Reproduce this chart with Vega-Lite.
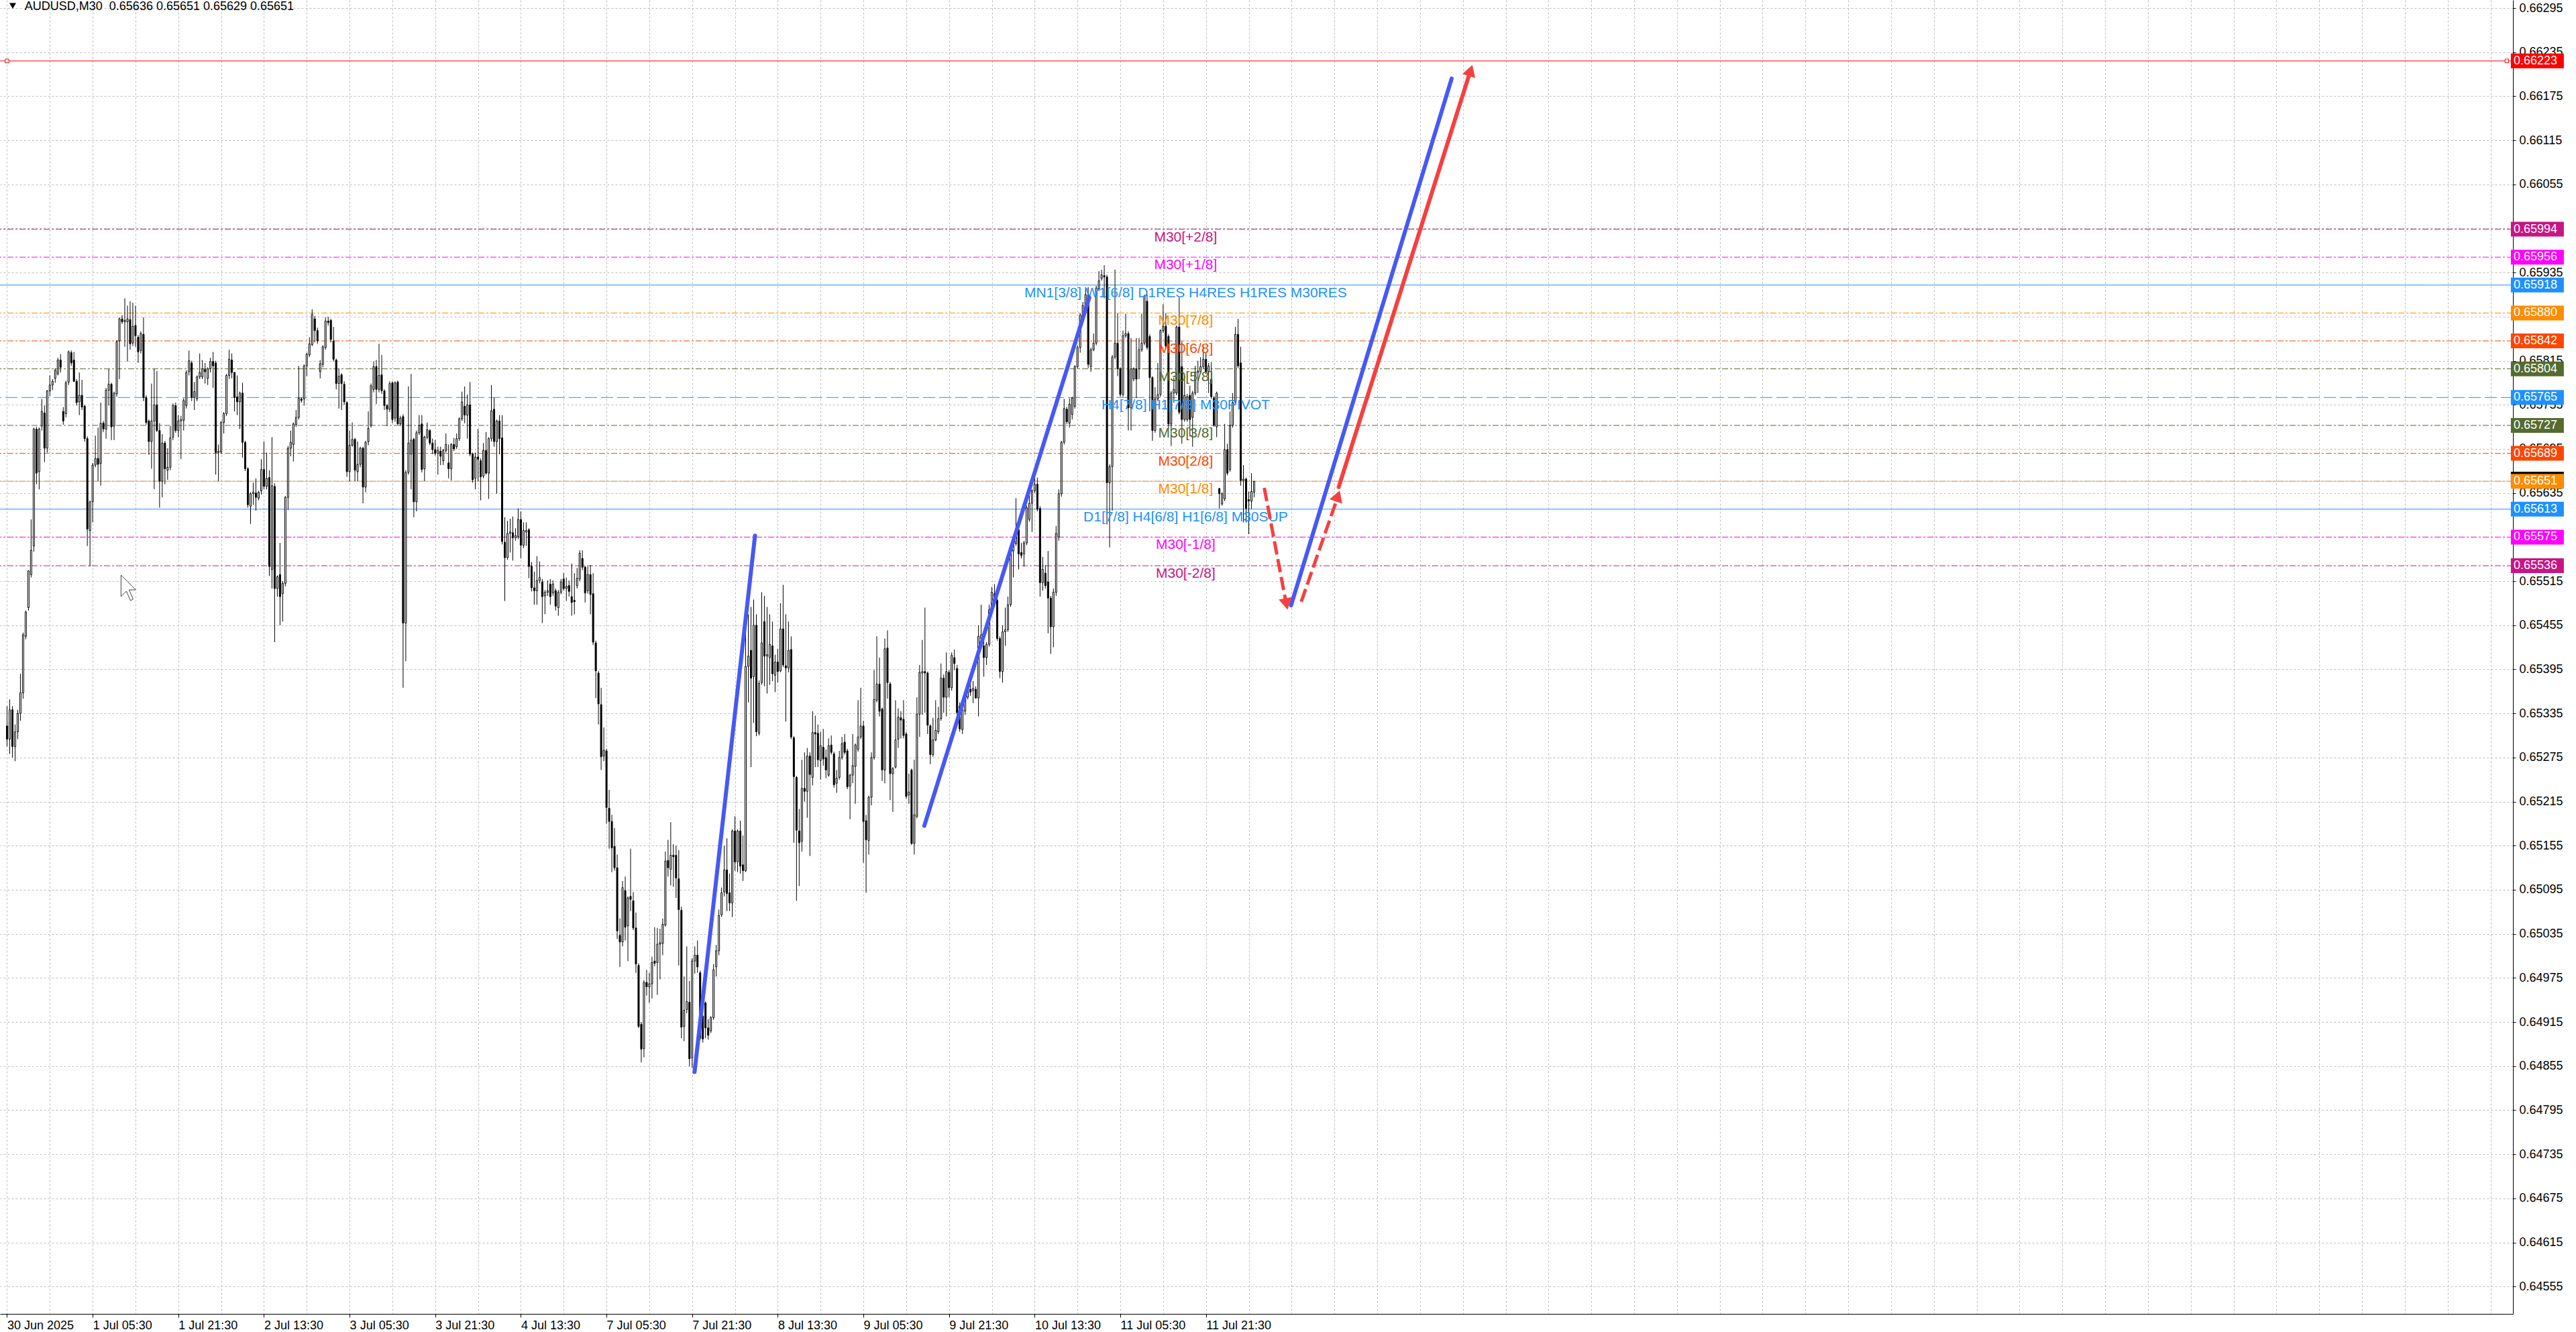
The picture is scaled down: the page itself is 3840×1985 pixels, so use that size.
{
"$schema": "https://vega.github.io/schema/vega-lite/v6.json",
"width": 3746, "height": 1958,
"autosize": "none",
"padding": {"left": 0, "top": 0, "right": 94, "bottom": 27},
"background": "white",
"config": {"view": {"stroke": null}, "font": "Liberation Sans"},
"datasets": {
"levels": [
{"level":"TARGET","v":0.66223},
{"level":"M30[+2/8]","v":0.65994},
{"level":"M30[+1/8]","v":0.65956},
{"level":"MN1[3/8] W1[6/8] D1RES H4RES H1RES M30RES","v":0.65918},
{"level":"M30[7/8]","v":0.65880},
{"level":"M30[6/8]","v":0.65842},
{"level":"M30[5/8]","v":0.65804},
{"level":"H4[7/8] H1[7/8] M30PIVOT","v":0.65765},
{"level":"M30[3/8]","v":0.65727},
{"level":"M30[2/8]","v":0.65689},
{"level":"M30[1/8]","v":0.65651},
{"level":"D1[7/8] H4[6/8] H1[6/8] M30SUP","v":0.65613},
{"level":"M30[-1/8]","v":0.65575},
{"level":"M30[-2/8]","v":0.65536}
],
"redends": [{"i":0,"v":0.66223},{"i":934.1,"v":0.66223}],
"cursor": [{"i":42.6,"v":0.655233}],
"trend": [
{"seg":"b1","kind":"blue","i":256.9,"v":0.64847},{"seg":"b1","kind":"blue","i":279.5,"v":0.65577},
{"seg":"b2","kind":"blue","i":342.75,"v":0.65182},{"seg":"b2","kind":"blue","i":404.4,"v":0.65901},
{"seg":"b3","kind":"blue","i":479.8,"v":0.65482},{"seg":"b3","kind":"blue","i":539.8,"v":0.66199},
{"seg":"r1","kind":"red","i":497.6,"v":0.65643},{"seg":"r1","kind":"red","i":546.6,"v":0.66207},
{"seg":"d1","kind":"dash","i":469.8,"v":0.65642},{"seg":"d1","kind":"dash","i":477.7,"v":0.65490},
{"seg":"d2","kind":"dash","i":483.6,"v":0.65487},{"seg":"d2","kind":"dash","i":496.9,"v":0.65626}
],
"heads": [
{"arrow":"solid","i":546.88,"v":0.66210},
{"arrow":"dashup","i":497.26,"v":0.65631},
{"arrow":"dashdown","i":478.06,"v":0.65484}
],
"candles": [
{"i":0,"o":0.65318,"h":0.65345,"l":0.65290,"c":0.65300},
{"i":1,"o":0.65300,"h":0.65354,"l":0.65280,"c":0.65340},
{"i":2,"o":0.65340,"h":0.65345,"l":0.65275,"c":0.65290},
{"i":3,"o":0.65290,"h":0.65320,"l":0.65270,"c":0.65310},
{"i":4,"o":0.65310,"h":0.65340,"l":0.65300,"c":0.65335},
{"i":5,"o":0.65335,"h":0.65389,"l":0.65325,"c":0.65363},
{"i":6,"o":0.65363,"h":0.65445,"l":0.65355,"c":0.65442},
{"i":7,"o":0.65440,"h":0.65475,"l":0.65436,"c":0.65473},
{"i":8,"o":0.65479,"h":0.65530,"l":0.65475,"c":0.65529},
{"i":9,"o":0.65524,"h":0.65599,"l":0.65520,"c":0.65557},
{"i":10,"o":0.65563,"h":0.65724,"l":0.65555,"c":0.65722},
{"i":11,"o":0.65722,"h":0.65725,"l":0.65647,"c":0.65662},
{"i":12,"o":0.65664,"h":0.65724,"l":0.65640,"c":0.65722},
{"i":13,"o":0.65726,"h":0.65763,"l":0.65720,"c":0.65746},
{"i":14,"o":0.65744,"h":0.65754,"l":0.65677,"c":0.65696},
{"i":15,"o":0.65696,"h":0.65775,"l":0.65690,"c":0.65774},
{"i":16,"o":0.65774,"h":0.65795,"l":0.65767,"c":0.65782},
{"i":17,"o":0.65782,"h":0.65790,"l":0.65775,"c":0.65787},
{"i":18,"o":0.65791,"h":0.65805,"l":0.65785,"c":0.65802},
{"i":19,"o":0.65797,"h":0.65819,"l":0.65795,"c":0.65816},
{"i":20,"o":0.65816,"h":0.65824,"l":0.65799,"c":0.65806},
{"i":21,"o":0.65746,"h":0.65752,"l":0.65728,"c":0.65733},
{"i":22,"o":0.65743,"h":0.65788,"l":0.65738,"c":0.65785},
{"i":23,"o":0.65786,"h":0.65829,"l":0.65782,"c":0.65827},
{"i":24,"o":0.65826,"h":0.65829,"l":0.65808,"c":0.65812},
{"i":25,"o":0.65816,"h":0.65827,"l":0.65786,"c":0.65787},
{"i":26,"o":0.65787,"h":0.65790,"l":0.65754,"c":0.65758},
{"i":27,"o":0.65759,"h":0.65799,"l":0.65741,"c":0.65768},
{"i":28,"o":0.65768,"h":0.65789,"l":0.65748,"c":0.65752},
{"i":29,"o":0.65753,"h":0.65755,"l":0.65705,"c":0.65709},
{"i":30,"o":0.65709,"h":0.65712,"l":0.65563,"c":0.65586},
{"i":31,"o":0.65584,"h":0.65625,"l":0.65535,"c":0.65623},
{"i":32,"o":0.65623,"h":0.65676,"l":0.65595,"c":0.65673},
{"i":33,"o":0.65673,"h":0.65713,"l":0.65670,"c":0.65682},
{"i":34,"o":0.65682,"h":0.65724,"l":0.65651,"c":0.65674},
{"i":35,"o":0.65675,"h":0.65758,"l":0.65645,"c":0.65730},
{"i":36,"o":0.65730,"h":0.65733,"l":0.65718,"c":0.65722},
{"i":37,"o":0.65722,"h":0.65778,"l":0.65709,"c":0.65775},
{"i":38,"o":0.65775,"h":0.65804,"l":0.65754,"c":0.65783},
{"i":39,"o":0.65783,"h":0.65785,"l":0.65707,"c":0.65725},
{"i":40,"o":0.65726,"h":0.65773,"l":0.65707,"c":0.65771},
{"i":41,"o":0.65770,"h":0.65843,"l":0.65766,"c":0.65841},
{"i":42,"o":0.65842,"h":0.65874,"l":0.65790,"c":0.65872},
{"i":43,"o":0.65872,"h":0.65877,"l":0.65865,"c":0.65868},
{"i":44,"o":0.65868,"h":0.65900,"l":0.65834,"c":0.65870},
{"i":45,"o":0.65868,"h":0.65890,"l":0.65814,"c":0.65872},
{"i":46,"o":0.65871,"h":0.65896,"l":0.65830,"c":0.65838},
{"i":47,"o":0.65839,"h":0.65894,"l":0.65835,"c":0.65862},
{"i":48,"o":0.65863,"h":0.65890,"l":0.65834,"c":0.65849},
{"i":49,"o":0.65847,"h":0.65850,"l":0.65812,"c":0.65827},
{"i":50,"o":0.65829,"h":0.65855,"l":0.65825,"c":0.65852},
{"i":51,"o":0.65851,"h":0.65874,"l":0.65760,"c":0.65765},
{"i":52,"o":0.65765,"h":0.65768,"l":0.65728,"c":0.65731},
{"i":53,"o":0.65733,"h":0.65735,"l":0.65687,"c":0.65705},
{"i":54,"o":0.65705,"h":0.65784,"l":0.65668,"c":0.65733},
{"i":55,"o":0.65733,"h":0.65804,"l":0.65640,"c":0.65755},
{"i":56,"o":0.65755,"h":0.65801,"l":0.65718,"c":0.65720},
{"i":57,"o":0.65720,"h":0.65730,"l":0.65615,"c":0.65651},
{"i":58,"o":0.65651,"h":0.65715,"l":0.65629,"c":0.65703},
{"i":59,"o":0.65703,"h":0.65706,"l":0.65647,"c":0.65668},
{"i":60,"o":0.65666,"h":0.65696,"l":0.65653,"c":0.65670},
{"i":61,"o":0.65670,"h":0.65726,"l":0.65666,"c":0.65710},
{"i":62,"o":0.65711,"h":0.65757,"l":0.65707,"c":0.65754},
{"i":63,"o":0.65754,"h":0.65758,"l":0.65717,"c":0.65720},
{"i":64,"o":0.65720,"h":0.65741,"l":0.65711,"c":0.65733},
{"i":65,"o":0.65733,"h":0.65740,"l":0.65681,"c":0.65735},
{"i":66,"o":0.65734,"h":0.65764,"l":0.65720,"c":0.65761},
{"i":67,"o":0.65754,"h":0.65802,"l":0.65750,"c":0.65799},
{"i":68,"o":0.65800,"h":0.65829,"l":0.65795,"c":0.65815},
{"i":69,"o":0.65812,"h":0.65815,"l":0.65760,"c":0.65765},
{"i":70,"o":0.65765,"h":0.65786,"l":0.65748,"c":0.65773},
{"i":71,"o":0.65763,"h":0.65795,"l":0.65760,"c":0.65793},
{"i":72,"o":0.65793,"h":0.65825,"l":0.65790,"c":0.65799},
{"i":73,"o":0.65793,"h":0.65816,"l":0.65790,"c":0.65804},
{"i":74,"o":0.65803,"h":0.65812,"l":0.65784,"c":0.65800},
{"i":75,"o":0.65791,"h":0.65806,"l":0.65782,"c":0.65804},
{"i":76,"o":0.65804,"h":0.65819,"l":0.65799,"c":0.65814},
{"i":77,"o":0.65814,"h":0.65827,"l":0.65778,"c":0.65808},
{"i":78,"o":0.65812,"h":0.65815,"l":0.65660,"c":0.65690},
{"i":79,"o":0.65690,"h":0.65701,"l":0.65651,"c":0.65692},
{"i":80,"o":0.65691,"h":0.65733,"l":0.65688,"c":0.65731},
{"i":81,"o":0.65731,"h":0.65745,"l":0.65716,"c":0.65743},
{"i":82,"o":0.65743,"h":0.65797,"l":0.65740,"c":0.65795},
{"i":83,"o":0.65795,"h":0.65830,"l":0.65790,"c":0.65817},
{"i":84,"o":0.65816,"h":0.65825,"l":0.65791,"c":0.65799},
{"i":85,"o":0.65799,"h":0.65800,"l":0.65746,"c":0.65765},
{"i":86,"o":0.65766,"h":0.65795,"l":0.65741,"c":0.65759},
{"i":87,"o":0.65759,"h":0.65773,"l":0.65722,"c":0.65771},
{"i":88,"o":0.65771,"h":0.65785,"l":0.65683,"c":0.65704},
{"i":89,"o":0.65704,"h":0.65706,"l":0.65665,"c":0.65668},
{"i":90,"o":0.65668,"h":0.65670,"l":0.65615,"c":0.65619},
{"i":91,"o":0.65617,"h":0.65636,"l":0.65593,"c":0.65634},
{"i":92,"o":0.65634,"h":0.65649,"l":0.65619,"c":0.65636},
{"i":93,"o":0.65635,"h":0.65655,"l":0.65611,"c":0.65629},
{"i":94,"o":0.65628,"h":0.65638,"l":0.65625,"c":0.65636},
{"i":95,"o":0.65638,"h":0.65681,"l":0.65633,"c":0.65667},
{"i":96,"o":0.65667,"h":0.65705,"l":0.65640,"c":0.65644},
{"i":97,"o":0.65644,"h":0.65690,"l":0.65640,"c":0.65655},
{"i":98,"o":0.65656,"h":0.65666,"l":0.65522,"c":0.65535},
{"i":99,"o":0.65531,"h":0.65711,"l":0.65505,"c":0.65645},
{"i":100,"o":0.65644,"h":0.65648,"l":0.65432,"c":0.65505},
{"i":101,"o":0.65505,"h":0.65523,"l":0.65494,"c":0.65521},
{"i":102,"o":0.65524,"h":0.65567,"l":0.65455,"c":0.65494},
{"i":103,"o":0.65498,"h":0.65515,"l":0.65460,"c":0.65512},
{"i":104,"o":0.65512,"h":0.65631,"l":0.65508,"c":0.65629},
{"i":105,"o":0.65629,"h":0.65699,"l":0.65612,"c":0.65696},
{"i":106,"o":0.65696,"h":0.65720,"l":0.65685,"c":0.65704},
{"i":107,"o":0.65701,"h":0.65731,"l":0.65678,"c":0.65729},
{"i":108,"o":0.65728,"h":0.65748,"l":0.65725,"c":0.65738},
{"i":109,"o":0.65738,"h":0.65808,"l":0.65735,"c":0.65764},
{"i":110,"o":0.65763,"h":0.65765,"l":0.65758,"c":0.65761},
{"i":111,"o":0.65763,"h":0.65810,"l":0.65754,"c":0.65808},
{"i":112,"o":0.65808,"h":0.65826,"l":0.65794,"c":0.65824},
{"i":113,"o":0.65823,"h":0.65847,"l":0.65820,"c":0.65838},
{"i":114,"o":0.65837,"h":0.65885,"l":0.65835,"c":0.65878},
{"i":115,"o":0.65872,"h":0.65876,"l":0.65840,"c":0.65856},
{"i":116,"o":0.65856,"h":0.65860,"l":0.65838,"c":0.65842},
{"i":117,"o":0.65800,"h":0.65816,"l":0.65791,"c":0.65811},
{"i":118,"o":0.65810,"h":0.65836,"l":0.65806,"c":0.65834},
{"i":119,"o":0.65833,"h":0.65874,"l":0.65830,"c":0.65869},
{"i":120,"o":0.65869,"h":0.65875,"l":0.65863,"c":0.65867},
{"i":121,"o":0.65870,"h":0.65872,"l":0.65840,"c":0.65844},
{"i":122,"o":0.65842,"h":0.65861,"l":0.65814,"c":0.65817},
{"i":123,"o":0.65816,"h":0.65818,"l":0.65776,"c":0.65784},
{"i":124,"o":0.65784,"h":0.65804,"l":0.65750,"c":0.65794},
{"i":125,"o":0.65796,"h":0.65798,"l":0.65748,"c":0.65784},
{"i":126,"o":0.65783,"h":0.65787,"l":0.65755,"c":0.65759},
{"i":127,"o":0.65758,"h":0.65760,"l":0.65657,"c":0.65664},
{"i":128,"o":0.65664,"h":0.65720,"l":0.65651,"c":0.65700},
{"i":129,"o":0.65700,"h":0.65731,"l":0.65698,"c":0.65708},
{"i":130,"o":0.65708,"h":0.65710,"l":0.65651,"c":0.65666},
{"i":131,"o":0.65664,"h":0.65705,"l":0.65651,"c":0.65674},
{"i":132,"o":0.65674,"h":0.65698,"l":0.65670,"c":0.65696},
{"i":133,"o":0.65696,"h":0.65698,"l":0.65621,"c":0.65643},
{"i":134,"o":0.65643,"h":0.65706,"l":0.65636,"c":0.65704},
{"i":135,"o":0.65705,"h":0.65746,"l":0.65700,"c":0.65723},
{"i":136,"o":0.65727,"h":0.65784,"l":0.65724,"c":0.65781},
{"i":137,"o":0.65776,"h":0.65814,"l":0.65772,"c":0.65807},
{"i":138,"o":0.65807,"h":0.65816,"l":0.65756,"c":0.65776},
{"i":139,"o":0.65776,"h":0.65838,"l":0.65772,"c":0.65795},
{"i":140,"o":0.65796,"h":0.65823,"l":0.65770,"c":0.65774},
{"i":141,"o":0.65774,"h":0.65776,"l":0.65748,"c":0.65754},
{"i":142,"o":0.65754,"h":0.65756,"l":0.65726,"c":0.65749},
{"i":143,"o":0.65749,"h":0.65787,"l":0.65745,"c":0.65784},
{"i":144,"o":0.65785,"h":0.65787,"l":0.65730,"c":0.65735},
{"i":145,"o":0.65737,"h":0.65787,"l":0.65732,"c":0.65785},
{"i":146,"o":0.65786,"h":0.65788,"l":0.65728,"c":0.65729},
{"i":147,"o":0.65729,"h":0.65740,"l":0.65726,"c":0.65737},
{"i":148,"o":0.65739,"h":0.65742,"l":0.65370,"c":0.65458},
{"i":149,"o":0.65458,"h":0.65666,"l":0.65406,"c":0.65663},
{"i":150,"o":0.65663,"h":0.65780,"l":0.65660,"c":0.65703},
{"i":151,"o":0.65688,"h":0.65797,"l":0.65640,"c":0.65707},
{"i":152,"o":0.65708,"h":0.65710,"l":0.65602,"c":0.65623},
{"i":153,"o":0.65623,"h":0.65720,"l":0.65610,"c":0.65717},
{"i":154,"o":0.65717,"h":0.65741,"l":0.65714,"c":0.65727},
{"i":155,"o":0.65729,"h":0.65741,"l":0.65663,"c":0.65667},
{"i":156,"o":0.65668,"h":0.65713,"l":0.65651,"c":0.65711},
{"i":157,"o":0.65711,"h":0.65731,"l":0.65708,"c":0.65721},
{"i":158,"o":0.65720,"h":0.65722,"l":0.65700,"c":0.65703},
{"i":159,"o":0.65703,"h":0.65709,"l":0.65688,"c":0.65694},
{"i":160,"o":0.65694,"h":0.65707,"l":0.65686,"c":0.65689},
{"i":161,"o":0.65689,"h":0.65698,"l":0.65660,"c":0.65693},
{"i":162,"o":0.65692,"h":0.65698,"l":0.65673,"c":0.65685},
{"i":163,"o":0.65679,"h":0.65695,"l":0.65673,"c":0.65693},
{"i":164,"o":0.65693,"h":0.65716,"l":0.65690,"c":0.65701},
{"i":165,"o":0.65676,"h":0.65701,"l":0.65655,"c":0.65668},
{"i":166,"o":0.65668,"h":0.65703,"l":0.65652,"c":0.65701},
{"i":167,"o":0.65701,"h":0.65710,"l":0.65692,"c":0.65695},
{"i":168,"o":0.65698,"h":0.65716,"l":0.65695,"c":0.65709},
{"i":169,"o":0.65709,"h":0.65738,"l":0.65706,"c":0.65736},
{"i":170,"o":0.65736,"h":0.65773,"l":0.65733,"c":0.65759},
{"i":171,"o":0.65753,"h":0.65780,"l":0.65730,"c":0.65741},
{"i":172,"o":0.65741,"h":0.65769,"l":0.65709,"c":0.65755},
{"i":173,"o":0.65755,"h":0.65786,"l":0.65685,"c":0.65688},
{"i":174,"o":0.65688,"h":0.65690,"l":0.65649,"c":0.65653},
{"i":175,"o":0.65655,"h":0.65690,"l":0.65640,"c":0.65684},
{"i":176,"o":0.65684,"h":0.65722,"l":0.65651,"c":0.65681},
{"i":177,"o":0.65679,"h":0.65682,"l":0.65625,"c":0.65657},
{"i":178,"o":0.65658,"h":0.65703,"l":0.65655,"c":0.65693},
{"i":179,"o":0.65693,"h":0.65718,"l":0.65660,"c":0.65662},
{"i":180,"o":0.65662,"h":0.65711,"l":0.65627,"c":0.65709},
{"i":181,"o":0.65709,"h":0.65782,"l":0.65705,"c":0.65747},
{"i":182,"o":0.65749,"h":0.65765,"l":0.65698,"c":0.65705},
{"i":183,"o":0.65705,"h":0.65735,"l":0.65634,"c":0.65733},
{"i":184,"o":0.65733,"h":0.65741,"l":0.65688,"c":0.65709},
{"i":185,"o":0.65710,"h":0.65741,"l":0.65565,"c":0.65569},
{"i":186,"o":0.65568,"h":0.65602,"l":0.65488,"c":0.65547},
{"i":187,"o":0.65547,"h":0.65597,"l":0.65544,"c":0.65580},
{"i":188,"o":0.65580,"h":0.65600,"l":0.65554,"c":0.65582},
{"i":189,"o":0.65581,"h":0.65603,"l":0.65543,"c":0.65574},
{"i":190,"o":0.65574,"h":0.65587,"l":0.65570,"c":0.65577},
{"i":191,"o":0.65576,"h":0.65614,"l":0.65572,"c":0.65599},
{"i":192,"o":0.65599,"h":0.65610,"l":0.65546,"c":0.65564},
{"i":193,"o":0.65564,"h":0.65595,"l":0.65560,"c":0.65584},
{"i":194,"o":0.65582,"h":0.65595,"l":0.65563,"c":0.65584},
{"i":195,"o":0.65585,"h":0.65587,"l":0.65519,"c":0.65535},
{"i":196,"o":0.65535,"h":0.65541,"l":0.65501,"c":0.65506},
{"i":197,"o":0.65506,"h":0.65528,"l":0.65483,"c":0.65502},
{"i":198,"o":0.65502,"h":0.65549,"l":0.65483,"c":0.65516},
{"i":199,"o":0.65516,"h":0.65542,"l":0.65512,"c":0.65520},
{"i":200,"o":0.65514,"h":0.65518,"l":0.65458,"c":0.65494},
{"i":201,"o":0.65495,"h":0.65503,"l":0.65470,"c":0.65500},
{"i":202,"o":0.65500,"h":0.65516,"l":0.65495,"c":0.65502},
{"i":203,"o":0.65511,"h":0.65518,"l":0.65483,"c":0.65494},
{"i":204,"o":0.65499,"h":0.65516,"l":0.65495,"c":0.65511},
{"i":205,"o":0.65502,"h":0.65505,"l":0.65475,"c":0.65481},
{"i":206,"o":0.65479,"h":0.65503,"l":0.65468,"c":0.65500},
{"i":207,"o":0.65500,"h":0.65518,"l":0.65497,"c":0.65514},
{"i":208,"o":0.65518,"h":0.65526,"l":0.65502,"c":0.65505},
{"i":209,"o":0.65505,"h":0.65520,"l":0.65488,"c":0.65508},
{"i":210,"o":0.65509,"h":0.65516,"l":0.65494,"c":0.65501},
{"i":211,"o":0.65494,"h":0.65539,"l":0.65468,"c":0.65486},
{"i":212,"o":0.65489,"h":0.65526,"l":0.65470,"c":0.65487},
{"i":213,"o":0.65509,"h":0.65533,"l":0.65505,"c":0.65519},
{"i":214,"o":0.65518,"h":0.65557,"l":0.65515,"c":0.65553},
{"i":215,"o":0.65546,"h":0.65557,"l":0.65530,"c":0.65534},
{"i":216,"o":0.65534,"h":0.65536,"l":0.65486,"c":0.65499},
{"i":217,"o":0.65502,"h":0.65535,"l":0.65498,"c":0.65524},
{"i":218,"o":0.65524,"h":0.65537,"l":0.65470,"c":0.65497},
{"i":219,"o":0.65498,"h":0.65526,"l":0.65428,"c":0.65432},
{"i":220,"o":0.65431,"h":0.65434,"l":0.65356,"c":0.65393},
{"i":221,"o":0.65390,"h":0.65393,"l":0.65320,"c":0.65348},
{"i":222,"o":0.65347,"h":0.65370,"l":0.65258,"c":0.65276},
{"i":223,"o":0.65277,"h":0.65316,"l":0.65270,"c":0.65285},
{"i":224,"o":0.65284,"h":0.65287,"l":0.65185,"c":0.65207},
{"i":225,"o":0.65206,"h":0.65231,"l":0.65151,"c":0.65188},
{"i":226,"o":0.65188,"h":0.65197,"l":0.65119,"c":0.65152},
{"i":227,"o":0.65154,"h":0.65179,"l":0.65121,"c":0.65125},
{"i":228,"o":0.65125,"h":0.65143,"l":0.65028,"c":0.65039},
{"i":229,"o":0.65033,"h":0.65056,"l":0.64990,"c":0.65024},
{"i":230,"o":0.65024,"h":0.65107,"l":0.65018,"c":0.65098},
{"i":231,"o":0.65094,"h":0.65113,"l":0.65026,"c":0.65044},
{"i":232,"o":0.65046,"h":0.65086,"l":0.64998,"c":0.65084},
{"i":233,"o":0.65086,"h":0.65151,"l":0.65066,"c":0.65082},
{"i":234,"o":0.65080,"h":0.65092,"l":0.65040,"c":0.65043},
{"i":235,"o":0.65043,"h":0.65064,"l":0.64982,"c":0.64994},
{"i":236,"o":0.64992,"h":0.64995,"l":0.64907,"c":0.64909},
{"i":237,"o":0.64912,"h":0.64915,"l":0.64860,"c":0.64878},
{"i":238,"o":0.64879,"h":0.64972,"l":0.64867,"c":0.64969},
{"i":239,"o":0.64969,"h":0.64986,"l":0.64951,"c":0.64963},
{"i":240,"o":0.64963,"h":0.64982,"l":0.64941,"c":0.64967},
{"i":241,"o":0.64967,"h":0.65004,"l":0.64947,"c":0.64996},
{"i":242,"o":0.64998,"h":0.65044,"l":0.64991,"c":0.64995},
{"i":243,"o":0.64996,"h":0.65043,"l":0.64952,"c":0.65021},
{"i":244,"o":0.65021,"h":0.65042,"l":0.64973,"c":0.65023},
{"i":245,"o":0.65022,"h":0.65056,"l":0.65006,"c":0.65048},
{"i":246,"o":0.65047,"h":0.65147,"l":0.65045,"c":0.65134},
{"i":247,"o":0.65135,"h":0.65163,"l":0.65113,"c":0.65125},
{"i":248,"o":0.65123,"h":0.65187,"l":0.65101,"c":0.65142},
{"i":249,"o":0.65142,"h":0.65157,"l":0.65099,"c":0.65140},
{"i":250,"o":0.65142,"h":0.65155,"l":0.65084,"c":0.65111},
{"i":251,"o":0.65110,"h":0.65149,"l":0.64992,"c":0.65068},
{"i":252,"o":0.65067,"h":0.65072,"l":0.64893,"c":0.64908},
{"i":253,"o":0.64909,"h":0.64977,"l":0.64889,"c":0.64931},
{"i":254,"o":0.64932,"h":0.65018,"l":0.64927,"c":0.64943},
{"i":255,"o":0.64942,"h":0.64971,"l":0.64855,"c":0.64865},
{"i":256,"o":0.64866,"h":0.65002,"l":0.64853,"c":0.64998},
{"i":257,"o":0.64998,"h":0.65018,"l":0.64981,"c":0.65006},
{"i":258,"o":0.65006,"h":0.65026,"l":0.64982,"c":0.64990},
{"i":259,"o":0.64982,"h":0.64985,"l":0.64890,"c":0.64893},
{"i":260,"o":0.64923,"h":0.64925,"l":0.64887,"c":0.64892},
{"i":261,"o":0.64941,"h":0.64943,"l":0.64893,"c":0.64907},
{"i":262,"o":0.64907,"h":0.64919,"l":0.64891,"c":0.64897},
{"i":263,"o":0.64903,"h":0.64923,"l":0.64900,"c":0.64921},
{"i":264,"o":0.64921,"h":0.64994,"l":0.64918,"c":0.64986},
{"i":265,"o":0.64990,"h":0.65020,"l":0.64977,"c":0.65012},
{"i":266,"o":0.65012,"h":0.65068,"l":0.65006,"c":0.65060},
{"i":267,"o":0.65061,"h":0.65098,"l":0.65058,"c":0.65091},
{"i":268,"o":0.65092,"h":0.65155,"l":0.65086,"c":0.65122},
{"i":269,"o":0.65122,"h":0.65165,"l":0.65066,"c":0.65090},
{"i":270,"o":0.65091,"h":0.65117,"l":0.65066,"c":0.65077},
{"i":271,"o":0.65077,"h":0.65177,"l":0.65058,"c":0.65175},
{"i":272,"o":0.65175,"h":0.65195,"l":0.65121,"c":0.65133},
{"i":273,"o":0.65133,"h":0.65177,"l":0.65119,"c":0.65175},
{"i":274,"o":0.65175,"h":0.65189,"l":0.65117,"c":0.65127},
{"i":275,"o":0.65129,"h":0.65169,"l":0.65107,"c":0.65121},
{"i":276,"o":0.65121,"h":0.65445,"l":0.65119,"c":0.65399},
{"i":277,"o":0.65399,"h":0.65470,"l":0.65350,"c":0.65413},
{"i":278,"o":0.65421,"h":0.65480,"l":0.65262,"c":0.65383},
{"i":279,"o":0.65385,"h":0.65490,"l":0.65322,"c":0.65455},
{"i":280,"o":0.65455,"h":0.65470,"l":0.65304,"c":0.65310},
{"i":281,"o":0.65308,"h":0.65380,"l":0.65305,"c":0.65376},
{"i":282,"o":0.65377,"h":0.65500,"l":0.65374,"c":0.65431},
{"i":283,"o":0.65460,"h":0.65495,"l":0.65372,"c":0.65413},
{"i":284,"o":0.65413,"h":0.65480,"l":0.65362,"c":0.65415},
{"i":285,"o":0.65411,"h":0.65470,"l":0.65374,"c":0.65429},
{"i":286,"o":0.65427,"h":0.65460,"l":0.65379,"c":0.65389},
{"i":287,"o":0.65387,"h":0.65415,"l":0.65364,"c":0.65405},
{"i":288,"o":0.65405,"h":0.65423,"l":0.65377,"c":0.65392},
{"i":289,"o":0.65393,"h":0.65485,"l":0.65391,"c":0.65450},
{"i":290,"o":0.65450,"h":0.65510,"l":0.65398,"c":0.65401},
{"i":291,"o":0.65400,"h":0.65470,"l":0.65324,"c":0.65397},
{"i":292,"o":0.65397,"h":0.65460,"l":0.65391,"c":0.65421},
{"i":293,"o":0.65422,"h":0.65440,"l":0.65300,"c":0.65303},
{"i":294,"o":0.65302,"h":0.65304,"l":0.65159,"c":0.65249},
{"i":295,"o":0.65248,"h":0.65250,"l":0.65080,"c":0.65176},
{"i":296,"o":0.65175,"h":0.65205,"l":0.65100,"c":0.65159},
{"i":297,"o":0.65161,"h":0.65272,"l":0.65147,"c":0.65233},
{"i":298,"o":0.65233,"h":0.65282,"l":0.65215,"c":0.65229},
{"i":299,"o":0.65229,"h":0.65288,"l":0.65193,"c":0.65277},
{"i":300,"o":0.65277,"h":0.65282,"l":0.65141,"c":0.65252},
{"i":301,"o":0.65248,"h":0.65338,"l":0.65237,"c":0.65309},
{"i":302,"o":0.65309,"h":0.65332,"l":0.65262,"c":0.65307},
{"i":303,"o":0.65308,"h":0.65320,"l":0.65262,"c":0.65272},
{"i":304,"o":0.65271,"h":0.65310,"l":0.65245,"c":0.65291},
{"i":305,"o":0.65289,"h":0.65314,"l":0.65264,"c":0.65273},
{"i":306,"o":0.65275,"h":0.65286,"l":0.65247,"c":0.65258},
{"i":307,"o":0.65251,"h":0.65301,"l":0.65249,"c":0.65291},
{"i":308,"o":0.65292,"h":0.65305,"l":0.65279,"c":0.65282},
{"i":309,"o":0.65280,"h":0.65283,"l":0.65234,"c":0.65238},
{"i":310,"o":0.65240,"h":0.65258,"l":0.65227,"c":0.65247},
{"i":311,"o":0.65248,"h":0.65284,"l":0.65245,"c":0.65275},
{"i":312,"o":0.65275,"h":0.65303,"l":0.65272,"c":0.65294},
{"i":313,"o":0.65296,"h":0.65307,"l":0.65279,"c":0.65282},
{"i":314,"o":0.65284,"h":0.65287,"l":0.65232,"c":0.65235},
{"i":315,"o":0.65236,"h":0.65253,"l":0.65191,"c":0.65251},
{"i":316,"o":0.65251,"h":0.65307,"l":0.65240,"c":0.65264},
{"i":317,"o":0.65263,"h":0.65294,"l":0.65212,"c":0.65292},
{"i":318,"o":0.65286,"h":0.65353,"l":0.65283,"c":0.65303},
{"i":319,"o":0.65303,"h":0.65370,"l":0.65300,"c":0.65318},
{"i":320,"o":0.65318,"h":0.65325,"l":0.65132,"c":0.65188},
{"i":321,"o":0.65189,"h":0.65197,"l":0.65091,"c":0.65163},
{"i":322,"o":0.65162,"h":0.65223,"l":0.65143,"c":0.65221},
{"i":323,"o":0.65221,"h":0.65282,"l":0.65210,"c":0.65275},
{"i":324,"o":0.65275,"h":0.65394,"l":0.65272,"c":0.65354},
{"i":325,"o":0.65353,"h":0.65440,"l":0.65350,"c":0.65375},
{"i":326,"o":0.65375,"h":0.65411,"l":0.65331,"c":0.65338},
{"i":327,"o":0.65341,"h":0.65343,"l":0.65243,"c":0.65258},
{"i":328,"o":0.65258,"h":0.65437,"l":0.65240,"c":0.65423},
{"i":329,"o":0.65424,"h":0.65448,"l":0.65355,"c":0.65377},
{"i":330,"o":0.65375,"h":0.65378,"l":0.65217,"c":0.65253},
{"i":331,"o":0.65253,"h":0.65262,"l":0.65201,"c":0.65260},
{"i":332,"o":0.65262,"h":0.65353,"l":0.65260,"c":0.65299},
{"i":333,"o":0.65300,"h":0.65342,"l":0.65288,"c":0.65330},
{"i":334,"o":0.65329,"h":0.65338,"l":0.65301,"c":0.65326},
{"i":335,"o":0.65327,"h":0.65353,"l":0.65301,"c":0.65305},
{"i":336,"o":0.65307,"h":0.65310,"l":0.65219,"c":0.65222},
{"i":337,"o":0.65224,"h":0.65253,"l":0.65212,"c":0.65228},
{"i":338,"o":0.65258,"h":0.65260,"l":0.65156,"c":0.65158},
{"i":339,"o":0.65158,"h":0.65272,"l":0.65143,"c":0.65197},
{"i":340,"o":0.65195,"h":0.65357,"l":0.65192,"c":0.65334},
{"i":341,"o":0.65334,"h":0.65401,"l":0.65303,"c":0.65391},
{"i":342,"o":0.65390,"h":0.65435,"l":0.65333,"c":0.65392},
{"i":343,"o":0.65392,"h":0.65479,"l":0.65336,"c":0.65390},
{"i":344,"o":0.65390,"h":0.65392,"l":0.65307,"c":0.65319},
{"i":345,"o":0.65318,"h":0.65320,"l":0.65266,"c":0.65279},
{"i":346,"o":0.65279,"h":0.65329,"l":0.65276,"c":0.65299},
{"i":347,"o":0.65299,"h":0.65353,"l":0.65297,"c":0.65312},
{"i":348,"o":0.65310,"h":0.65344,"l":0.65307,"c":0.65328},
{"i":349,"o":0.65328,"h":0.65403,"l":0.65325,"c":0.65383},
{"i":350,"o":0.65383,"h":0.65388,"l":0.65336,"c":0.65357},
{"i":351,"o":0.65357,"h":0.65418,"l":0.65331,"c":0.65392},
{"i":352,"o":0.65391,"h":0.65394,"l":0.65357,"c":0.65370},
{"i":353,"o":0.65370,"h":0.65418,"l":0.65366,"c":0.65414},
{"i":354,"o":0.65411,"h":0.65422,"l":0.65394,"c":0.65403},
{"i":355,"o":0.65396,"h":0.65401,"l":0.65333,"c":0.65336},
{"i":356,"o":0.65345,"h":0.65350,"l":0.65310,"c":0.65314},
{"i":357,"o":0.65313,"h":0.65343,"l":0.65307,"c":0.65340},
{"i":358,"o":0.65338,"h":0.65364,"l":0.65333,"c":0.65357},
{"i":359,"o":0.65357,"h":0.65372,"l":0.65354,"c":0.65368},
{"i":360,"o":0.65368,"h":0.65379,"l":0.65359,"c":0.65364},
{"i":361,"o":0.65366,"h":0.65379,"l":0.65349,"c":0.65369},
{"i":362,"o":0.65368,"h":0.65372,"l":0.65355,"c":0.65356},
{"i":363,"o":0.65356,"h":0.65455,"l":0.65331,"c":0.65440},
{"i":364,"o":0.65437,"h":0.65483,"l":0.65435,"c":0.65442},
{"i":365,"o":0.65427,"h":0.65442,"l":0.65385,"c":0.65411},
{"i":366,"o":0.65411,"h":0.65432,"l":0.65401,"c":0.65429},
{"i":367,"o":0.65429,"h":0.65483,"l":0.65426,"c":0.65476},
{"i":368,"o":0.65476,"h":0.65507,"l":0.65473,"c":0.65500},
{"i":369,"o":0.65498,"h":0.65511,"l":0.65483,"c":0.65487},
{"i":370,"o":0.65489,"h":0.65496,"l":0.65434,"c":0.65437},
{"i":371,"o":0.65437,"h":0.65440,"l":0.65383,"c":0.65392},
{"i":372,"o":0.65392,"h":0.65455,"l":0.65377,"c":0.65446},
{"i":373,"o":0.65446,"h":0.65479,"l":0.65427,"c":0.65449},
{"i":374,"o":0.65449,"h":0.65494,"l":0.65446,"c":0.65483},
{"i":375,"o":0.65483,"h":0.65565,"l":0.65480,"c":0.65556},
{"i":376,"o":0.65556,"h":0.65576,"l":0.65520,"c":0.65567},
{"i":377,"o":0.65566,"h":0.65628,"l":0.65563,"c":0.65582},
{"i":378,"o":0.65585,"h":0.65588,"l":0.65531,"c":0.65552},
{"i":379,"o":0.65554,"h":0.65567,"l":0.65546,"c":0.65550},
{"i":380,"o":0.65552,"h":0.65570,"l":0.65535,"c":0.65567},
{"i":381,"o":0.65567,"h":0.65618,"l":0.65564,"c":0.65615},
{"i":382,"o":0.65599,"h":0.65637,"l":0.65596,"c":0.65621},
{"i":383,"o":0.65621,"h":0.65640,"l":0.65582,"c":0.65638},
{"i":384,"o":0.65638,"h":0.65656,"l":0.65635,"c":0.65647},
{"i":385,"o":0.65647,"h":0.65656,"l":0.65610,"c":0.65613},
{"i":386,"o":0.65614,"h":0.65617,"l":0.65494,"c":0.65513},
{"i":387,"o":0.65513,"h":0.65548,"l":0.65502,"c":0.65531},
{"i":388,"o":0.65526,"h":0.65537,"l":0.65505,"c":0.65509},
{"i":389,"o":0.65514,"h":0.65556,"l":0.65444,"c":0.65492},
{"i":390,"o":0.65492,"h":0.65495,"l":0.65416,"c":0.65453},
{"i":391,"o":0.65453,"h":0.65505,"l":0.65425,"c":0.65500},
{"i":392,"o":0.65500,"h":0.65590,"l":0.65495,"c":0.65580},
{"i":393,"o":0.65575,"h":0.65640,"l":0.65570,"c":0.65634},
{"i":394,"o":0.65634,"h":0.65706,"l":0.65630,"c":0.65704},
{"i":395,"o":0.65704,"h":0.65763,"l":0.65701,"c":0.65750},
{"i":396,"o":0.65749,"h":0.65752,"l":0.65729,"c":0.65732},
{"i":397,"o":0.65730,"h":0.65764,"l":0.65724,"c":0.65756},
{"i":398,"o":0.65742,"h":0.65766,"l":0.65735,"c":0.65764},
{"i":399,"o":0.65753,"h":0.65809,"l":0.65750,"c":0.65807},
{"i":400,"o":0.65807,"h":0.65836,"l":0.65804,"c":0.65833},
{"i":401,"o":0.65833,"h":0.65880,"l":0.65826,"c":0.65877},
{"i":402,"o":0.65877,"h":0.65895,"l":0.65875,"c":0.65890},
{"i":403,"o":0.65890,"h":0.65915,"l":0.65880,"c":0.65905},
{"i":404,"o":0.65905,"h":0.65915,"l":0.65805,"c":0.65810},
{"i":405,"o":0.65807,"h":0.65833,"l":0.65800,"c":0.65830},
{"i":406,"o":0.65830,"h":0.65852,"l":0.65828,"c":0.65839},
{"i":407,"o":0.65839,"h":0.65917,"l":0.65836,"c":0.65914},
{"i":408,"o":0.65913,"h":0.65937,"l":0.65910,"c":0.65924},
{"i":409,"o":0.65927,"h":0.65939,"l":0.65924,"c":0.65932},
{"i":410,"o":0.65931,"h":0.65945,"l":0.65900,"c":0.65929},
{"i":411,"o":0.65929,"h":0.65932,"l":0.65592,"c":0.65649},
{"i":412,"o":0.65649,"h":0.65674,"l":0.65561,"c":0.65671},
{"i":413,"o":0.65671,"h":0.65823,"l":0.65611,"c":0.65820},
{"i":414,"o":0.65820,"h":0.65939,"l":0.65817,"c":0.65839},
{"i":415,"o":0.65839,"h":0.65880,"l":0.65794,"c":0.65804},
{"i":416,"o":0.65804,"h":0.65806,"l":0.65766,"c":0.65769},
{"i":417,"o":0.65769,"h":0.65856,"l":0.65766,"c":0.65849},
{"i":418,"o":0.65849,"h":0.65879,"l":0.65846,"c":0.65852},
{"i":419,"o":0.65852,"h":0.65855,"l":0.65720,"c":0.65751},
{"i":420,"o":0.65751,"h":0.65846,"l":0.65720,"c":0.65804},
{"i":421,"o":0.65790,"h":0.65806,"l":0.65787,"c":0.65804},
{"i":422,"o":0.65804,"h":0.65846,"l":0.65764,"c":0.65790},
{"i":423,"o":0.65804,"h":0.65846,"l":0.65790,"c":0.65830},
{"i":424,"o":0.65830,"h":0.65879,"l":0.65827,"c":0.65839},
{"i":425,"o":0.65839,"h":0.65905,"l":0.65836,"c":0.65903},
{"i":426,"o":0.65896,"h":0.65905,"l":0.65830,"c":0.65833},
{"i":427,"o":0.65848,"h":0.65851,"l":0.65746,"c":0.65792},
{"i":428,"o":0.65792,"h":0.65794,"l":0.65706,"c":0.65720},
{"i":429,"o":0.65720,"h":0.65779,"l":0.65717,"c":0.65763},
{"i":430,"o":0.65763,"h":0.65812,"l":0.65760,"c":0.65769},
{"i":431,"o":0.65769,"h":0.65858,"l":0.65766,"c":0.65856},
{"i":432,"o":0.65856,"h":0.65892,"l":0.65853,"c":0.65862},
{"i":433,"o":0.65862,"h":0.65880,"l":0.65832,"c":0.65835},
{"i":434,"o":0.65848,"h":0.65851,"l":0.65722,"c":0.65729},
{"i":435,"o":0.65729,"h":0.65774,"l":0.65699,"c":0.65771},
{"i":436,"o":0.65771,"h":0.65792,"l":0.65758,"c":0.65776},
{"i":437,"o":0.65771,"h":0.65863,"l":0.65768,"c":0.65861},
{"i":438,"o":0.65861,"h":0.65901,"l":0.65742,"c":0.65745},
{"i":439,"o":0.65807,"h":0.65841,"l":0.65702,"c":0.65735},
{"i":440,"o":0.65735,"h":0.65794,"l":0.65732,"c":0.65768},
{"i":441,"o":0.65735,"h":0.65770,"l":0.65732,"c":0.65766},
{"i":442,"o":0.65768,"h":0.65781,"l":0.65712,"c":0.65735},
{"i":443,"o":0.65738,"h":0.65774,"l":0.65698,"c":0.65771},
{"i":444,"o":0.65771,"h":0.65808,"l":0.65768,"c":0.65799},
{"i":445,"o":0.65799,"h":0.65815,"l":0.65771,"c":0.65801},
{"i":446,"o":0.65800,"h":0.65820,"l":0.65797,"c":0.65807},
{"i":447,"o":0.65807,"h":0.65836,"l":0.65804,"c":0.65817},
{"i":448,"o":0.65817,"h":0.65826,"l":0.65797,"c":0.65800},
{"i":449,"o":0.65800,"h":0.65812,"l":0.65771,"c":0.65808},
{"i":450,"o":0.65790,"h":0.65813,"l":0.65763,"c":0.65766},
{"i":451,"o":0.65764,"h":0.65767,"l":0.65725,"c":0.65727},
{"i":452,"o":0.65725,"h":0.65773,"l":0.65711,"c":0.65771},
{"i":453,"o":0.65641,"h":0.65642,"l":0.65614,"c":0.65634},
{"i":454,"o":0.65620,"h":0.65636,"l":0.65618,"c":0.65634},
{"i":455,"o":0.65627,"h":0.65729,"l":0.65624,"c":0.65694},
{"i":456,"o":0.65694,"h":0.65702,"l":0.65659,"c":0.65662},
{"i":457,"o":0.65667,"h":0.65746,"l":0.65664,"c":0.65727},
{"i":458,"o":0.65727,"h":0.65771,"l":0.65724,"c":0.65758},
{"i":459,"o":0.65758,"h":0.65861,"l":0.65755,"c":0.65851},
{"i":460,"o":0.65851,"h":0.65872,"l":0.65805,"c":0.65808},
{"i":461,"o":0.65812,"h":0.65834,"l":0.65645,"c":0.65652},
{"i":462,"o":0.65652,"h":0.65673,"l":0.65595,"c":0.65654},
{"i":463,"o":0.65654,"h":0.65656,"l":0.65595,"c":0.65614},
{"i":464,"o":0.65626,"h":0.65637,"l":0.65579,"c":0.65624},
{"i":465,"o":0.65624,"h":0.65662,"l":0.65613,"c":0.65637},
{"i":466,"o":0.65636,"h":0.65651,"l":0.65629,"c":0.65651}
]
},
"layer": [
{
"data": {"name": "levels"},
"mark": {"type": "rule"},
"encoding": {
"y": {"field": "v", "type": "quantitative", "title": null, "scale": {"domain": [0.6451782, 0.6630596], "nice": false, "zero": false}},
"color": {"field": "level", "type": "nominal", "legend": null, "scale": {"domain": ["TARGET","M30[+2/8]","M30[+1/8]","MN1[3/8] W1[6/8] D1RES H4RES H1RES M30RES","M30[7/8]","M30[6/8]","M30[5/8]","H4[7/8] H1[7/8] M30PIVOT","M30[3/8]","M30[2/8]","M30[1/8]","D1[7/8] H4[6/8] H1[6/8] M30SUP","M30[-1/8]","M30[-2/8]"], "range": ["#FF0000","#C71585","#FF00FF","#1E90FF","#FF8C00","#FF4500","#556B2F","#1E90FF","#556B2F","#FF4500","#FF8C00","#1E90FF","#FF00FF","#C71585"]}},
"strokeDash": {"field": "level", "type": "nominal", "legend": null, "scale": {"domain": ["TARGET","M30[+2/8]","M30[+1/8]","MN1[3/8] W1[6/8] D1RES H4RES H1RES M30RES","M30[7/8]","M30[6/8]","M30[5/8]","H4[7/8] H1[7/8] M30PIVOT","M30[3/8]","M30[2/8]","M30[1/8]","D1[7/8] H4[6/8] H1[6/8] M30SUP","M30[-1/8]","M30[-2/8]"], "range": [[1,0],[9,3,3,3],[9,3,3,3],[1,0],[9,3,3,3],[9,3,3,3],[9,3,3,3],[18,6],[9,3,3,3],[9,3,3,3],[9,3,3,3],[1,0],[9,3,3,3],[9,3,3,3]]}},
"strokeWidth": {"field": "level", "type": "ordinal", "legend": null, "scale": {"domain": ["TARGET","M30[+2/8]","M30[+1/8]","MN1[3/8] W1[6/8] D1RES H4RES H1RES M30RES","M30[7/8]","M30[6/8]","M30[5/8]","H4[7/8] H1[7/8] M30PIVOT","M30[3/8]","M30[2/8]","M30[1/8]","D1[7/8] H4[6/8] H1[6/8] M30SUP","M30[-1/8]","M30[-2/8]"], "range": [1,1,1,2,1,1,1,1,1,1,1.4,1,1,1]}}
}
},
{
"data": {"values": [{"bid": "bid"}]},
"mark": {"type": "rule", "color": "#B0B0B0", "strokeWidth": 1, "opacity": 0.8},
"encoding": {
"y": {"datum": 0.65651, "type": "quantitative", "title": null, "scale": {"domain": [0.6451782, 0.6630596], "nice": false, "zero": false}}
}
},
{
"data": {"name": "redends"},
"mark": {"type": "point", "shape": "square", "size": 30, "filled": true, "fill": "white", "stroke": "#FF0000", "strokeWidth": 1, "opacity": 1},
"encoding": {
"x": {"field": "i", "type": "quantitative", "title": null, "scale": {"domain": [-1.375, 935.125], "nice": false, "zero": false}},
"y": {"field": "v", "type": "quantitative", "title": null, "scale": {"domain": [0.6451782, 0.6630596], "nice": false, "zero": false}}
}
},
{
"data": {"name": "candles"},
"mark": {"type": "rule", "color": "black", "strokeWidth": 1},
"encoding": {
"x": {"field": "i", "type": "quantitative", "title": null, "scale": {"domain": [-1.375, 935.125], "nice": false, "zero": false},
 "axis": {"orient": "bottom", "values": [0,16,32,48,64,80,96,112,128,144,160,176,192,208,224,240,256,272,288,304,320,336,352,368,384,400,416,432,448,464,480,496,512,528,544,560,576,592,608,624,640,656,672,688,704,720,736,752,768,784,800,816,832,848,864,880,896,912,928],
 "labelExpr": "datum.value % 32 === 0 && datum.value <= 448 ? ['30 Jun 2025','1 Jul 05:30','1 Jul 21:30','2 Jul 13:30','3 Jul 05:30','3 Jul 21:30','4 Jul 13:30','7 Jul 05:30','7 Jul 21:30','8 Jul 13:30','9 Jul 05:30','9 Jul 21:30','10 Jul 13:30','11 Jul 05:30','11 Jul 21:30'][datum.value / 32] : ''",
 "labelAlign": "left", "labelBaseline": "top", "labelPadding": 3, "labelFont": "Liberation Sans", "labelFontSize": 18, "labelColor": "black", "labelOverlap": false, "labelFlush": false, "labelBound": false,
 "tickSize": 5, "tickColor": "black", "tickOpacity": {"condition": {"test": "datum.value % 32 === 0 && datum.value <= 448", "value": 1}, "value": 0},
 "domainColor": "black", "domainWidth": 1,
 "grid": true, "gridColor": "#BDBDBD", "gridDash": [3,3], "gridWidth": 1}},
"y": {"field": "l", "type": "quantitative", "title": null, "scale": {"domain": [0.6451782, 0.6630596], "nice": false, "zero": false},
 "axis": {"orient": "right", "values": [0.64555,0.64615,0.64675,0.64735,0.64795,0.64855,0.64915,0.64975,0.65035,0.65095,0.65155,0.65215,0.65275,0.65335,0.65395,0.65455,0.65515,0.65575,0.65635,0.65695,0.65755,0.65815,0.65875,0.65935,0.65995,0.66055,0.66115,0.66175,0.66235,0.66295],
 "labelExpr": "indexof([0.65995, 0.65875, 0.65575], datum.value) >= 0 ? '' : format(datum.value, '.5f')",
 "labelFont": "Liberation Sans", "labelFontSize": 18, "labelColor": "black", "labelPadding": 5, "labelOverlap": false, "labelFlush": false, "labelBound": false,
 "tickSize": 4, "tickColor": "black", "domainColor": "black", "domainWidth": 1,
 "grid": true, "gridColor": "#BDBDBD", "gridDash": [3,3], "gridWidth": 1}},
"y2": {"field": "h"}
}
},
{
"data": {"name": "candles"},
"mark": {"type": "bar", "width": 2, "stroke": "black", "strokeWidth": 1, "opacity": 1},
"encoding": {
"x": {"field": "i", "type": "quantitative", "title": null, "scale": {"domain": [-1.375, 935.125], "nice": false, "zero": false}},
"y": {"field": "o", "type": "quantitative", "title": null, "scale": {"domain": [0.6451782, 0.6630596], "nice": false, "zero": false}},
"y2": {"field": "c"},
"fill": {"condition": {"test": "datum.c >= datum.o", "value": "white"}, "value": "black"}
}
},
{
"data": {"name": "levels"},
"transform": [{"filter": "datum.level !== 'TARGET'"}],
"mark": {"type": "text", "align": "center", "baseline": "top", "dy": 1, "font": "Liberation Sans", "fontSize": 21},
"encoding": {
"x": {"datum": 440.4, "type": "quantitative", "title": null, "scale": {"domain": [-1.375, 935.125], "nice": false, "zero": false}},
"y": {"field": "v", "type": "quantitative", "title": null, "scale": {"domain": [0.6451782, 0.6630596], "nice": false, "zero": false}},
"text": {"field": "level"},
"color": {"field": "level", "type": "nominal", "legend": null, "scale": {"domain": ["TARGET","M30[+2/8]","M30[+1/8]","MN1[3/8] W1[6/8] D1RES H4RES H1RES M30RES","M30[7/8]","M30[6/8]","M30[5/8]","H4[7/8] H1[7/8] M30PIVOT","M30[3/8]","M30[2/8]","M30[1/8]","D1[7/8] H4[6/8] H1[6/8] M30SUP","M30[-1/8]","M30[-2/8]"], "range": ["#FF0000","#C71585","#FF00FF","#1E90FF","#FF8C00","#FF4500","#556B2F","#1E90FF","#556B2F","#FF4500","#FF8C00","#1E90FF","#FF00FF","#C71585"]}}
}
},
{
"data": {"name": "cursor"},
"mark": {"type": "point", "shape": "M0,0L0,16L4,12L7,19L9,18L6,11L11,11Z", "size": 16, "filled": true, "fill": "white", "stroke": "#404040", "strokeWidth": 1, "opacity": 1},
"encoding": {
"x": {"field": "i", "type": "quantitative", "title": null, "scale": {"domain": [-1.375, 935.125], "nice": false, "zero": false}},
"y": {"field": "v", "type": "quantitative", "title": null, "scale": {"domain": [0.6451782, 0.6630596], "nice": false, "zero": false}}
}
},
{
"data": {"name": "trend"},
"transform": [{"filter": "datum.kind !== 'dash'"}],
"mark": {"type": "line", "strokeWidth": 6, "strokeCap": "round"},
"encoding": {
"x": {"field": "i", "type": "quantitative", "title": null, "scale": {"domain": [-1.375, 935.125], "nice": false, "zero": false}},
"y": {"field": "v", "type": "quantitative", "title": null, "scale": {"domain": [0.6451782, 0.6630596], "nice": false, "zero": false}},
"detail": {"field": "seg", "type": "nominal"},
"stroke": {"field": "kind", "type": "nominal", "legend": null, "scale": {"domain": ["blue", "red", "dash"], "range": ["#4659F4", "#F54040", "#F54040"]}}
}
},
{
"data": {"name": "trend"},
"transform": [{"filter": "datum.kind === 'dash'"}],
"mark": {"type": "line", "strokeWidth": 5, "strokeCap": "butt", "strokeDash": [20, 7], "color": "#F54040"},
"encoding": {
"x": {"field": "i", "type": "quantitative", "title": null, "scale": {"domain": [-1.375, 935.125], "nice": false, "zero": false}},
"y": {"field": "v", "type": "quantitative", "title": null, "scale": {"domain": [0.6451782, 0.6630596], "nice": false, "zero": false}},
"detail": {"field": "seg", "type": "nominal"}
}
},
{
"data": {"name": "heads"},
"transform": [{"filter": "datum.arrow === 'solid'"}],
"mark": {"type": "point", "shape": "triangle-up", "filled": true, "size": 400, "angle": 17.6, "color": "#F54040", "opacity": 1},
"encoding": {
"x": {"field": "i", "type": "quantitative", "title": null, "scale": {"domain": [-1.375, 935.125], "nice": false, "zero": false}},
"y": {"field": "v", "type": "quantitative", "title": null, "scale": {"domain": [0.6451782, 0.6630596], "nice": false, "zero": false}}
}
},
{
"data": {"name": "heads"},
"transform": [{"filter": "datum.arrow === 'dashup'"}],
"mark": {"type": "point", "shape": "triangle-up", "filled": true, "size": 400, "angle": 19.1, "color": "#F54040", "opacity": 1},
"encoding": {
"x": {"field": "i", "type": "quantitative", "title": null, "scale": {"domain": [-1.375, 935.125], "nice": false, "zero": false}},
"y": {"field": "v", "type": "quantitative", "title": null, "scale": {"domain": [0.6451782, 0.6630596], "nice": false, "zero": false}}
}
},
{
"data": {"name": "heads"},
"transform": [{"filter": "datum.arrow === 'dashdown'"}],
"mark": {"type": "point", "shape": "triangle-up", "filled": true, "size": 400, "angle": 169.2, "color": "#F54040", "opacity": 1},
"encoding": {
"x": {"field": "i", "type": "quantitative", "title": null, "scale": {"domain": [-1.375, 935.125], "nice": false, "zero": false}},
"y": {"field": "v", "type": "quantitative", "title": null, "scale": {"domain": [0.6451782, 0.6630596], "nice": false, "zero": false}}
}
},
{
"data": {"values": [{"bid": "bid"}]},
"mark": {"type": "tick", "orient": "horizontal", "thickness": 22, "clip": false, "color": "black", "opacity": 1},
"encoding": {
"x": {"datum": 945.5, "type": "quantitative", "title": null, "scale": {"domain": [-1.375, 935.125], "nice": false, "zero": false}},
"y": {"datum": 0.65654, "type": "quantitative", "title": null, "scale": {"domain": [0.6451782, 0.6630596], "nice": false, "zero": false}},
"size": {"value": 79}
}
},
{
"data": {"name": "levels"},
"mark": {"type": "tick", "orient": "horizontal", "thickness": 22, "clip": false, "opacity": 1},
"encoding": {
"x": {"datum": 945.5, "type": "quantitative", "title": null, "scale": {"domain": [-1.375, 935.125], "nice": false, "zero": false}},
"y": {"field": "v", "type": "quantitative", "title": null, "scale": {"domain": [0.6451782, 0.6630596], "nice": false, "zero": false}},
"size": {"value": 79},
"color": {"field": "level", "type": "nominal", "legend": null, "scale": {"domain": ["TARGET","M30[+2/8]","M30[+1/8]","MN1[3/8] W1[6/8] D1RES H4RES H1RES M30RES","M30[7/8]","M30[6/8]","M30[5/8]","H4[7/8] H1[7/8] M30PIVOT","M30[3/8]","M30[2/8]","M30[1/8]","D1[7/8] H4[6/8] H1[6/8] M30SUP","M30[-1/8]","M30[-2/8]"], "range": ["#FF0000","#C71585","#FF00FF","#1E90FF","#FF8C00","#FF4500","#556B2F","#1E90FF","#556B2F","#FF4500","#FF8C00","#1E90FF","#FF00FF","#C71585"]}}
}
},
{
"data": {"name": "levels"},
"mark": {"type": "text", "align": "left", "baseline": "middle", "clip": false, "font": "Liberation Sans", "fontSize": 18, "color": "white"},
"encoding": {
"x": {"datum": 936.6, "type": "quantitative", "title": null, "scale": {"domain": [-1.375, 935.125], "nice": false, "zero": false}},
"y": {"field": "v", "type": "quantitative", "title": null, "scale": {"domain": [0.6451782, 0.6630596], "nice": false, "zero": false}},
"text": {"field": "v", "type": "quantitative", "format": ".5f"}
}
},
{
"data": {"values": [{"h": "header"}]},
"mark": {"type": "point", "shape": "triangle-down", "filled": true, "size": 100, "color": "black", "opacity": 1},
"encoding": {
"x": {"datum": 2.125, "type": "quantitative", "title": null, "scale": {"domain": [-1.375, 935.125], "nice": false, "zero": false}},
"y": {"datum": 0.66298, "type": "quantitative", "title": null, "scale": {"domain": [0.6451782, 0.6630596], "nice": false, "zero": false}}
}
},
{
"data": {"values": [{"h": "header"}]},
"mark": {"type": "text", "align": "left", "baseline": "middle", "font": "Liberation Sans", "fontSize": 18, "color": "black"},
"encoding": {
"x": {"datum": 6.6, "type": "quantitative", "title": null, "scale": {"domain": [-1.375, 935.125], "nice": false, "zero": false}},
"y": {"datum": 0.66297, "type": "quantitative", "title": null, "scale": {"domain": [0.6451782, 0.6630596], "nice": false, "zero": false}},
"text": {"value": "AUDUSD,M30\u00a0 0.65636 0.65651 0.65629 0.65651"}
}
}
]
}
